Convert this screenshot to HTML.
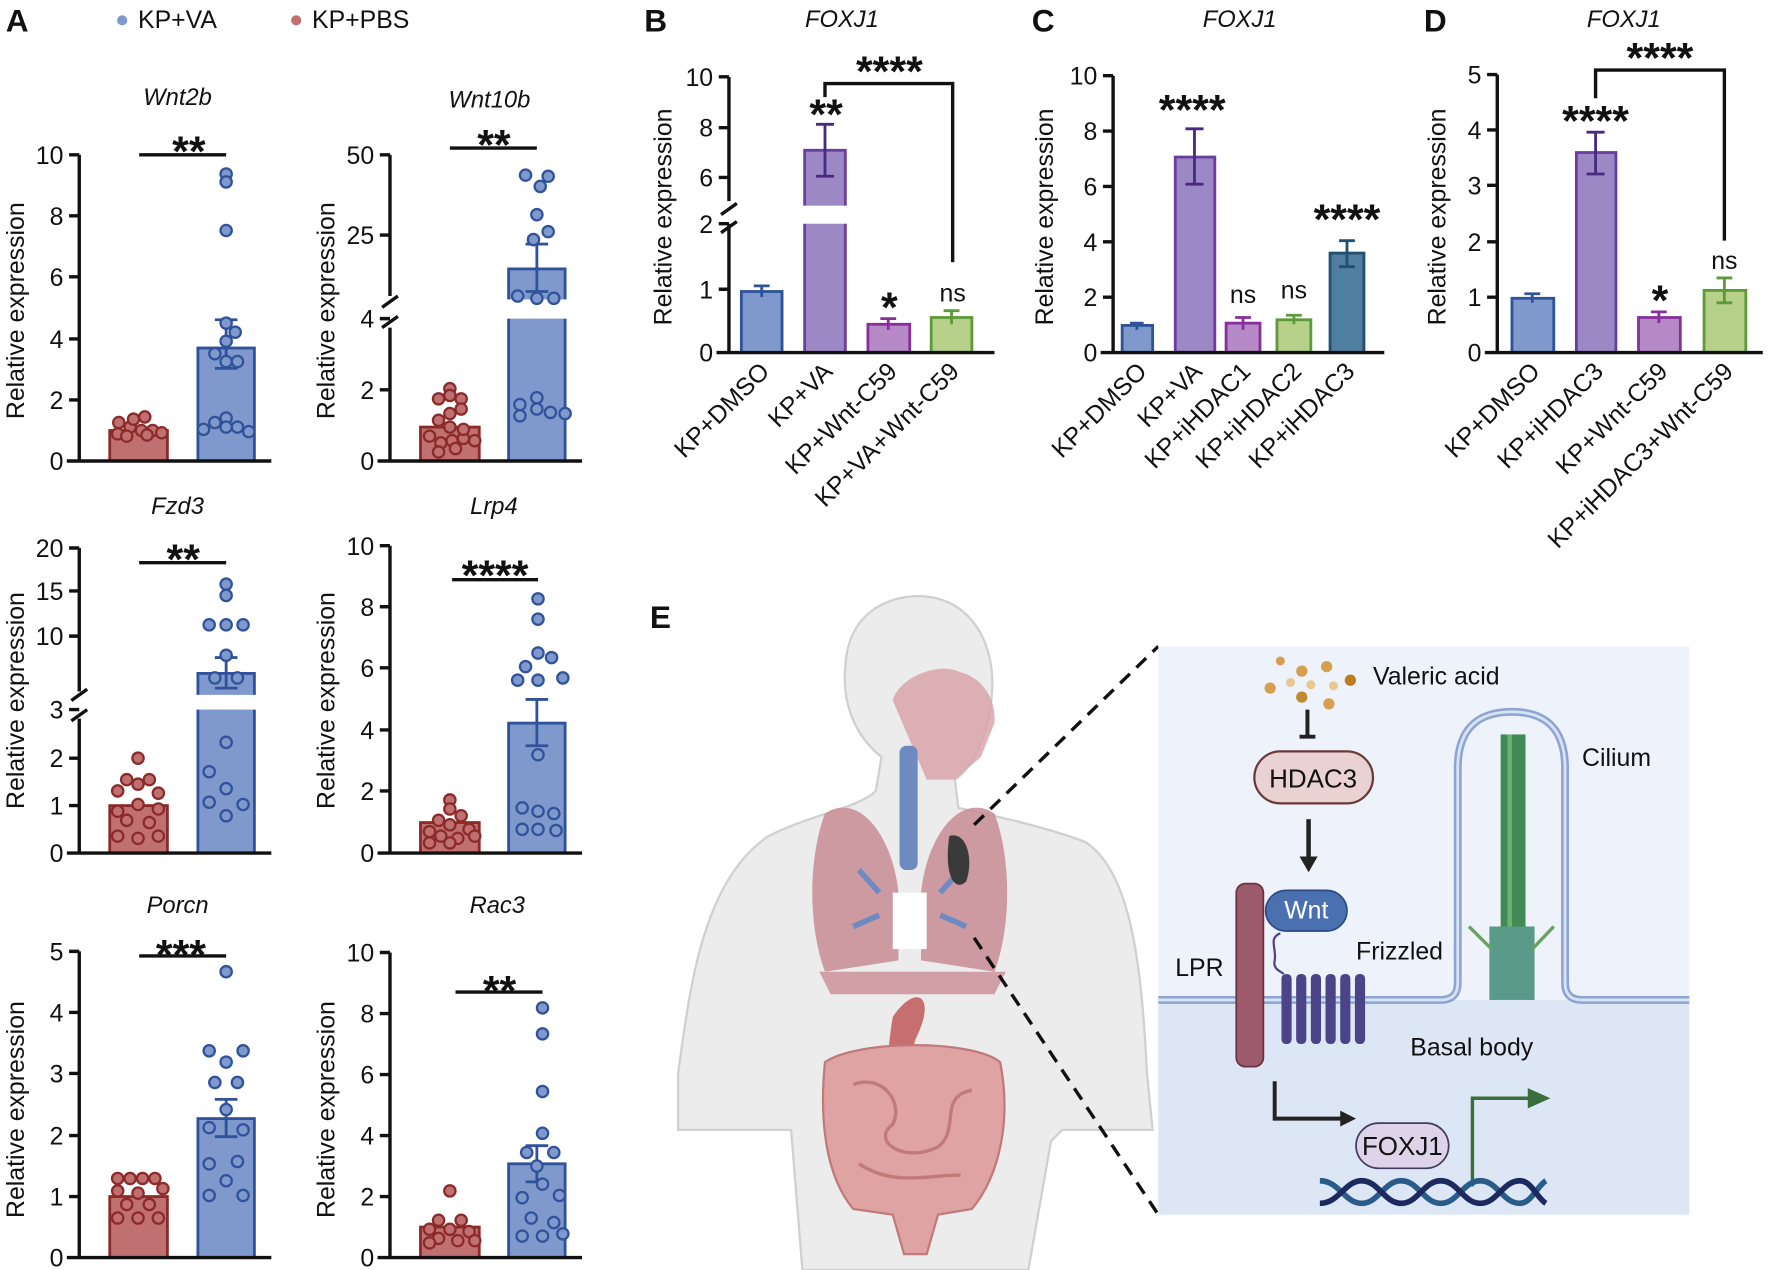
<!DOCTYPE html>
<html><head><meta charset="utf-8"><style>
html,body{margin:0;padding:0;background:#fff}
svg{display:block}
text{font-family:"Liberation Sans",Arial,sans-serif;fill:#111}
.t{font-size:20px}
.tick{font-size:22px}
.yl{font-size:22px}
.it{font-style:italic;font-size:21px}
.st{font-size:38px;font-weight:bold}
.lab{font-size:28px;font-weight:bold}
.ax{stroke:#111;stroke-width:3;fill:none}
.rb{fill:#c07070;stroke:#8c2a2a;stroke-width:2.5}
.bb{fill:#7f99cc;stroke:#2f529a;stroke-width:2.5}
.rd{fill:#c07070;stroke:#8c2a2a;stroke-width:2}
.bd{fill:#7f99cc;stroke:#2f529a;stroke-width:2}
.eb{stroke-width:2.5;fill:none}
</style></head><body>
<svg width="1772" height="1270" viewBox="0 0 1568 1124" xmlns="http://www.w3.org/2000/svg">
<text x="5" y="28" class="lab">A</text>
<circle cx="108" cy="18" r="4.5" fill="#7f99cc"/><text x="122" y="25" class="t" style="font-size:22px">KP+VA</text>
<circle cx="262" cy="18" r="4.5" fill="#c07070"/><text x="276" y="25" class="t" style="font-size:22px">KP+PBS</text>

<!-- Wnt2b -->
<text x="157" y="93" class="it" text-anchor="middle">Wnt2b</text>
<text x="167" y="147" class="st" text-anchor="middle">**</text>
<line x1="123" y1="137" x2="200" y2="137" class="ax"/>
<rect x="97" y="381" width="51" height="27" class="rb"/>
<rect x="175" y="308" width="50" height="100" class="bb"/>
<path d="M200 283V326M190 283H210M190 326H210" stroke="#2f529a" class="eb"/>
<g class="rd"><circle cx="105" cy="374" r="5"/><circle cx="115" cy="378" r="5"/><circle cx="125" cy="381" r="5"/><circle cx="135" cy="381" r="5"/><circle cx="143" cy="383" r="5"/><circle cx="118" cy="371" r="5"/><circle cx="128" cy="369" r="5"/><circle cx="104" cy="384" r="5"/><circle cx="112" cy="386" r="5"/><circle cx="130" cy="385" r="5"/></g>
<g class="bd"><circle cx="200" cy="154" r="5"/><circle cx="200" cy="161" r="5"/><circle cx="200" cy="204" r="5"/><circle cx="200" cy="286" r="5"/><circle cx="208" cy="294" r="5"/><circle cx="200" cy="302" r="5"/><circle cx="190" cy="313" r="5"/><circle cx="200" cy="320" r="5"/><circle cx="210" cy="320" r="5"/><circle cx="200" cy="370" r="5"/><circle cx="190" cy="374" r="5"/><circle cx="210" cy="378" r="5"/><circle cx="180" cy="380" r="5"/><circle cx="220" cy="382" r="5"/><circle cx="200" cy="378" r="5"/></g>
<path d="M70 137V408M61 137H70M61 191H70M61 245H70M61 300H70M61 354H70M61 408H70M59 408H240" class="ax"/>
<g class="tick" text-anchor="end"><text x="56" y="145">10</text><text x="56" y="199">8</text><text x="56" y="253">6</text><text x="56" y="308">4</text><text x="56" y="362">2</text><text x="56" y="416">0</text></g>
<text transform="translate(21,275) rotate(-90)" class="yl" text-anchor="middle">Relative expression</text>

<!-- Wnt10b -->
<text x="433" y="95" class="it" text-anchor="middle">Wnt10b</text>
<text x="437" y="141" class="st" text-anchor="middle">**</text>
<line x1="398" y1="131" x2="475" y2="131" class="ax"/>
<rect x="372" y="378" width="52" height="30" class="rb"/>
<rect x="450" y="238" width="50" height="170" class="bb"/>
<rect x="440" y="265" width="70" height="17" fill="#fff"/>
<path d="M475 216V258M465 216H485M465 258H485" stroke="#2f529a" class="eb"/>
<g class="rd"><circle cx="398" cy="344" r="5"/><circle cx="388" cy="353" r="5"/><circle cx="398" cy="350" r="5"/><circle cx="408" cy="353" r="5"/><circle cx="398" cy="366" r="5"/><circle cx="408" cy="362" r="5"/><circle cx="388" cy="372" r="5"/><circle cx="398" cy="378" r="5"/><circle cx="380" cy="386" r="5"/><circle cx="390" cy="392" r="5"/><circle cx="400" cy="390" r="5"/><circle cx="410" cy="388" r="5"/><circle cx="420" cy="390" r="5"/><circle cx="403" cy="397" r="5"/><circle cx="388" cy="400" r="5"/><circle cx="410" cy="380" r="5"/></g>
<g class="bd"><circle cx="465" cy="155" r="5"/><circle cx="485" cy="156" r="5"/><circle cx="478" cy="165" r="5"/><circle cx="475" cy="190" r="5"/><circle cx="485" cy="205" r="5"/><circle cx="472" cy="212" r="5"/><circle cx="458" cy="262" r="5"/><circle cx="475" cy="264" r="5"/><circle cx="490" cy="264" r="5"/><circle cx="475" cy="352" r="5"/><circle cx="460" cy="358" r="5"/><circle cx="475" cy="362" r="5"/><circle cx="487" cy="365" r="5"/><circle cx="460" cy="368" r="5"/><circle cx="500" cy="366" r="5"/></g>
<path d="M345 137V262M345 290V408M336 137H345M336 208H345M336 282H345M336 345H345M336 408H345M334 408H515" class="ax"/>
<path d="M338 272L352 262M338 290L352 280" class="ax"/>
<g class="tick" text-anchor="end"><text x="331" y="145">50</text><text x="331" y="216">25</text><text x="331" y="290">4</text><text x="331" y="353">2</text><text x="331" y="416">0</text></g>
<text transform="translate(296,275) rotate(-90)" class="yl" text-anchor="middle">Relative expression</text>

<!-- Fzd3 -->
<text x="157" y="455" class="it" text-anchor="middle">Fzd3</text>
<text x="162" y="508" class="st" text-anchor="middle">**</text>
<line x1="123" y1="498" x2="200" y2="498" class="ax"/>
<rect x="97" y="713" width="51" height="42" class="rb"/>
<rect x="175" y="596" width="50" height="159" class="bb"/>
<rect x="165" y="615" width="70" height="13" fill="#fff"/>
<path d="M200 582V609M190 582H210M190 609H210" stroke="#2f529a" class="eb"/>
<g class="rd"><circle cx="122" cy="671" r="5"/><circle cx="112" cy="690" r="5"/><circle cx="122" cy="694" r="5"/><circle cx="132" cy="690" r="5"/><circle cx="104" cy="700" r="5"/><circle cx="140" cy="702" r="5"/><circle cx="122" cy="712" r="5"/><circle cx="104" cy="718" r="5"/><circle cx="140" cy="716" r="5"/><circle cx="112" cy="726" r="5"/><circle cx="132" cy="728" r="5"/><circle cx="104" cy="740" r="5"/><circle cx="122" cy="742" r="5"/><circle cx="140" cy="740" r="5"/></g>
<g class="bd"><circle cx="200" cy="517" r="5"/><circle cx="200" cy="527" r="5"/><circle cx="185" cy="553" r="5"/><circle cx="200" cy="553" r="5"/><circle cx="215" cy="553" r="5"/><circle cx="200" cy="580" r="5"/><circle cx="190" cy="600" r="5"/><circle cx="210" cy="600" r="5"/><circle cx="200" cy="657" r="5"/><circle cx="185" cy="683" r="5"/><circle cx="200" cy="698" r="5"/><circle cx="185" cy="710" r="5"/><circle cx="215" cy="712" r="5"/><circle cx="200" cy="722" r="5"/></g>
<path d="M70 485V612M70 636V755M61 485H70M61 523H70M61 563H70M61 628H70M61 671H70M61 713H70M61 755H70M59 755H240" class="ax"/>
<path d="M63 620L77 610M63 638L77 628" class="ax"/>
<g class="tick" text-anchor="end"><text x="56" y="493">20</text><text x="56" y="531">15</text><text x="56" y="571">10</text><text x="56" y="636">3</text><text x="56" y="679">2</text><text x="56" y="721">1</text><text x="56" y="763">0</text></g>
<text transform="translate(21,620) rotate(-90)" class="yl" text-anchor="middle">Relative expression</text>

<!-- Lrp4 -->
<text x="437" y="455" class="it" text-anchor="middle">Lrp4</text>
<text x="438" y="522" class="st" text-anchor="middle">****</text>
<line x1="400" y1="513" x2="476" y2="513" class="ax"/>
<rect x="372" y="728" width="52" height="27" class="rb"/>
<rect x="450" y="640" width="50" height="115" class="bb"/>
<path d="M475 619V660M465 619H485M465 660H485" stroke="#2f529a" class="eb"/>
<g class="rd"><circle cx="398" cy="708" r="5"/><circle cx="398" cy="716" r="5"/><circle cx="408" cy="722" r="5"/><circle cx="388" cy="726" r="5"/><circle cx="398" cy="730" r="5"/><circle cx="380" cy="736" r="5"/><circle cx="415" cy="734" r="5"/><circle cx="390" cy="740" r="5"/><circle cx="405" cy="742" r="5"/><circle cx="420" cy="740" r="5"/><circle cx="380" cy="746" r="5"/><circle cx="398" cy="746" r="5"/></g>
<g class="bd"><circle cx="476" cy="530" r="5"/><circle cx="476" cy="548" r="5"/><circle cx="476" cy="578" r="5"/><circle cx="488" cy="582" r="5"/><circle cx="465" cy="590" r="5"/><circle cx="458" cy="602" r="5"/><circle cx="476" cy="602" r="5"/><circle cx="498" cy="600" r="5"/><circle cx="476" cy="668" r="5"/><circle cx="462" cy="715" r="5"/><circle cx="476" cy="718" r="5"/><circle cx="490" cy="720" r="5"/><circle cx="462" cy="734" r="5"/><circle cx="476" cy="734" r="5"/><circle cx="492" cy="735" r="5"/></g>
<path d="M345 483V755M336 483H345M336 537H345M336 591H345M336 646H345M336 700H345M336 755H345M334 755H515" class="ax"/>
<g class="tick" text-anchor="end"><text x="331" y="491">10</text><text x="331" y="545">8</text><text x="331" y="599">6</text><text x="331" y="654">4</text><text x="331" y="708">2</text><text x="331" y="763">0</text></g>
<text transform="translate(296,620) rotate(-90)" class="yl" text-anchor="middle">Relative expression</text>

<!-- Porcn -->
<text x="157" y="808" class="it" text-anchor="middle">Porcn</text>
<text x="160" y="858" class="st" text-anchor="middle">***</text>
<line x1="123" y1="846" x2="200" y2="846" class="ax"/>
<rect x="97" y="1059" width="51" height="54" class="rb"/>
<rect x="175" y="990" width="50" height="123" class="bb"/>
<path d="M200 973V1006M190 973H210M190 1006H210" stroke="#2f529a" class="eb"/>
<g class="rd"><circle cx="104" cy="1043" r="5"/><circle cx="115" cy="1043" r="5"/><circle cx="126" cy="1043" r="5"/><circle cx="137" cy="1043" r="5"/><circle cx="144" cy="1052" r="5"/><circle cx="104" cy="1054" r="5"/><circle cx="122" cy="1056" r="5"/><circle cx="112" cy="1066" r="5"/><circle cx="132" cy="1066" r="5"/><circle cx="104" cy="1078" r="5"/><circle cx="122" cy="1078" r="5"/><circle cx="140" cy="1078" r="5"/></g>
<g class="bd"><circle cx="200" cy="860" r="5"/><circle cx="185" cy="930" r="5"/><circle cx="200" cy="940" r="5"/><circle cx="215" cy="930" r="5"/><circle cx="190" cy="958" r="5"/><circle cx="210" cy="958" r="5"/><circle cx="200" cy="982" r="5"/><circle cx="185" cy="998" r="5"/><circle cx="215" cy="1000" r="5"/><circle cx="185" cy="1030" r="5"/><circle cx="210" cy="1028" r="5"/><circle cx="200" cy="1045" r="5"/><circle cx="185" cy="1058" r="5"/><circle cx="215" cy="1058" r="5"/></g>
<path d="M70 842V1113M61 842H70M61 896H70M61 950H70M61 1005H70M61 1059H70M61 1113H70M59 1113H240" class="ax"/>
<g class="tick" text-anchor="end"><text x="56" y="850">5</text><text x="56" y="904">4</text><text x="56" y="958">3</text><text x="56" y="1013">2</text><text x="56" y="1067">1</text><text x="56" y="1121">0</text></g>
<text transform="translate(21,982) rotate(-90)" class="yl" text-anchor="middle">Relative expression</text>

<!-- Rac3 -->
<text x="440" y="808" class="it" text-anchor="middle">Rac3</text>
<text x="442" y="890" class="st" text-anchor="middle">**</text>
<line x1="403" y1="878" x2="480" y2="878" class="ax"/>
<rect x="372" y="1086" width="52" height="27" class="rb"/>
<rect x="450" y="1030" width="50" height="83" class="bb"/>
<path d="M475 1014V1046M465 1014H485M465 1046H485" stroke="#2f529a" class="eb"/>
<g class="rd"><circle cx="398" cy="1054" r="5"/><circle cx="388" cy="1080" r="5"/><circle cx="408" cy="1080" r="5"/><circle cx="380" cy="1088" r="5"/><circle cx="398" cy="1088" r="5"/><circle cx="415" cy="1090" r="5"/><circle cx="388" cy="1096" r="5"/><circle cx="405" cy="1098" r="5"/><circle cx="420" cy="1098" r="5"/><circle cx="380" cy="1100" r="5"/></g>
<g class="bd"><circle cx="480" cy="892" r="5"/><circle cx="480" cy="915" r="5"/><circle cx="480" cy="966" r="5"/><circle cx="480" cy="1003" r="5"/><circle cx="466" cy="1020" r="5"/><circle cx="490" cy="1020" r="5"/><circle cx="475" cy="1032" r="5"/><circle cx="480" cy="1048" r="5"/><circle cx="462" cy="1060" r="5"/><circle cx="495" cy="1058" r="5"/><circle cx="470" cy="1078" r="5"/><circle cx="490" cy="1082" r="5"/><circle cx="462" cy="1094" r="5"/><circle cx="480" cy="1094" r="5"/><circle cx="498" cy="1092" r="5"/></g>
<path d="M345 843V1113M336 843H345M336 897H345M336 951H345M336 1005H345M336 1059H345M336 1113H345M334 1113H515" class="ax"/>
<g class="tick" text-anchor="end"><text x="331" y="851">10</text><text x="331" y="905">8</text><text x="331" y="959">6</text><text x="331" y="1013">4</text><text x="331" y="1067">2</text><text x="331" y="1121">0</text></g>
<text transform="translate(296,982) rotate(-90)" class="yl" text-anchor="middle">Relative expression</text>

<!-- Panel B -->
<text x="570" y="28" class="lab">B</text>
<text x="745" y="24" class="it" text-anchor="middle">FOXJ1</text>
<rect x="656" y="258" width="36" height="54" fill="#7f99cc" stroke="#2f529a" stroke-width="2.5"/>
<path d="M674 253V263M667 253H681" stroke="#2f529a" class="eb"/>
<rect x="712" y="133" width="36" height="179" fill="#9b88c4" stroke="#6b3e9e" stroke-width="2.5"/>
<rect x="702" y="182" width="56" height="16" fill="#fff"/>
<path d="M730 110V156M722 110H738M722 156H738" stroke="#4a2a80" class="eb"/>
<rect x="768" y="287" width="37" height="25" fill="#b58ac7" stroke="#8a2e9e" stroke-width="2.5"/>
<path d="M786 282V292M779 282H793" stroke="#8a2e9e" class="eb"/>
<rect x="824" y="281" width="36" height="31" fill="#b7d08a" stroke="#5e9a3a" stroke-width="2.5"/>
<path d="M842 275V287M835 275H849" stroke="#5e9a3a" class="eb"/>
<path d="M730 86V74H843V232" class="ax" stroke-width="2.5"/>
<text x="787" y="76" class="st" text-anchor="middle">****</text>
<text x="731" y="114" class="st" text-anchor="middle">**</text>
<text x="787" y="285" class="st" text-anchor="middle">*</text>
<text x="843" y="267" text-anchor="middle" style="font-size:22px">ns</text>
<path d="M645 68V178M645 198V312M636 68H645M636 113H645M636 157H645M636 198H645M636 256H645M636 312H645M634 312H880" class="ax"/>
<path d="M638 190L652 180M638 206L652 196" class="ax"/>
<g class="tick" text-anchor="end"><text x="631" y="76">10</text><text x="631" y="121">8</text><text x="631" y="165">6</text><text x="631" y="206">2</text><text x="631" y="264">1</text><text x="631" y="320">0</text></g>
<text transform="translate(594,192) rotate(-90)" class="yl" text-anchor="middle">Relative expression</text>
<g class="tick" text-anchor="end">
<text transform="translate(682,330) rotate(-45)">KP+DMSO</text>
<text transform="translate(738,330) rotate(-45)">KP+VA</text>
<text transform="translate(795,330) rotate(-45)">KP+Wnt-C59</text>
<text transform="translate(850,330) rotate(-45)">KP+VA+Wnt-C59</text>
</g>

<!-- Panel C -->
<text x="913" y="28" class="lab">C</text>
<text x="1097" y="24" class="it" text-anchor="middle">FOXJ1</text>
<rect x="993" y="288" width="27" height="24" fill="#7f99cc" stroke="#2f529a" stroke-width="2.5"/>
<path d="M1006 286V292M1000 286H1012" stroke="#2f529a" class="eb"/>
<rect x="1040" y="139" width="35" height="173" fill="#9b88c4" stroke="#6b3e9e" stroke-width="2.5"/>
<path d="M1057 114V163M1049 114H1065M1049 163H1065" stroke="#4a2a80" class="eb"/>
<rect x="1085" y="286" width="30" height="26" fill="#b58ac7" stroke="#8a2e9e" stroke-width="2.5"/>
<path d="M1100 281V292M1093 281H1107" stroke="#8a2e9e" class="eb"/>
<rect x="1130" y="283" width="30" height="29" fill="#b7d08a" stroke="#5e9a3a" stroke-width="2.5"/>
<path d="M1145 279V287M1138 279H1152" stroke="#5e9a3a" class="eb"/>
<rect x="1177" y="224" width="30" height="88" fill="#4f7fa0" stroke="#234f70" stroke-width="2.5"/>
<path d="M1192 213V236M1185 213H1199M1185 236H1199" stroke="#234f70" class="eb"/>
<text x="1055" y="110" class="st" text-anchor="middle">****</text>
<text x="1100" y="268" text-anchor="middle" style="font-size:22px">ns</text>
<text x="1145" y="264" text-anchor="middle" style="font-size:22px">ns</text>
<text x="1192" y="207" class="st" text-anchor="middle">****</text>
<path d="M985 67V312M976 67H985M976 116H985M976 165H985M976 214H985M976 263H985M976 312H985M974 312H1225" class="ax"/>
<g class="tick" text-anchor="end"><text x="971" y="75">10</text><text x="971" y="124">8</text><text x="971" y="173">6</text><text x="971" y="222">4</text><text x="971" y="271">2</text><text x="971" y="320">0</text></g>
<text transform="translate(932,192) rotate(-90)" class="yl" text-anchor="middle">Relative expression</text>
<g class="tick" text-anchor="end">
<text transform="translate(1016,330) rotate(-45)">KP+DMSO</text>
<text transform="translate(1065,330) rotate(-45)">KP+VA</text>
<text transform="translate(1108,330) rotate(-45)">KP+iHDAC1</text>
<text transform="translate(1153,330) rotate(-45)">KP+iHDAC2</text>
<text transform="translate(1200,330) rotate(-45)">KP+iHDAC3</text>
</g>

<!-- Panel D -->
<text x="1260" y="28" class="lab">D</text>
<text x="1437" y="24" class="it" text-anchor="middle">FOXJ1</text>
<rect x="1338" y="264" width="37" height="48" fill="#7f99cc" stroke="#2f529a" stroke-width="2.5"/>
<path d="M1356 260V268M1349 260H1363" stroke="#2f529a" class="eb"/>
<rect x="1395" y="135" width="35" height="177" fill="#9b88c4" stroke="#6b3e9e" stroke-width="2.5"/>
<path d="M1412 117V154M1404 117H1420M1404 154H1420" stroke="#4a2a80" class="eb"/>
<rect x="1450" y="281" width="37" height="31" fill="#b58ac7" stroke="#8a2e9e" stroke-width="2.5"/>
<path d="M1468 276V286M1461 276H1475" stroke="#8a2e9e" class="eb"/>
<rect x="1508" y="257" width="37" height="55" fill="#b7d08a" stroke="#5e9a3a" stroke-width="2.5"/>
<path d="M1526 246V268M1519 246H1533M1519 268H1533" stroke="#5e9a3a" class="eb"/>
<path d="M1412 87V62H1526V213" class="ax" stroke-width="2.5"/>
<text x="1469" y="64" class="st" text-anchor="middle">****</text>
<text x="1412" y="120" class="st" text-anchor="middle">****</text>
<text x="1469" y="279" class="st" text-anchor="middle">*</text>
<text x="1526" y="238" text-anchor="middle" style="font-size:22px">ns</text>
<path d="M1325 66V312M1316 66H1325M1316 115H1325M1316 164H1325M1316 214H1325M1316 263H1325M1316 312H1325M1314 312H1560" class="ax"/>
<g class="tick" text-anchor="end"><text x="1311" y="74">5</text><text x="1311" y="123">4</text><text x="1311" y="172">3</text><text x="1311" y="222">2</text><text x="1311" y="271">1</text><text x="1311" y="320">0</text></g>
<text transform="translate(1279,192) rotate(-90)" class="yl" text-anchor="middle">Relative expression</text>
<g class="tick" text-anchor="end">
<text transform="translate(1364,330) rotate(-45)">KP+DMSO</text>
<text transform="translate(1420,330) rotate(-45)">KP+iHDAC3</text>
<text transform="translate(1477,330) rotate(-45)">KP+Wnt-C59</text>
<text transform="translate(1535,330) rotate(-45)">KP+iHDAC3+Wnt-C59</text>
</g>

<!-- Panel E -->
<text x="575" y="556" class="lab">E</text>
<path d="M600 950 C610 880 620 780 680 740 C720 720 760 715 775 700 L780 670 C755 650 745 620 748 590 C750 540 790 525 820 528 C860 532 880 570 878 610 C876 650 860 680 845 690 L848 715 C870 720 920 730 960 745 C1000 770 1010 850 1015 950 L1020 1000 L940 1000 L930 1010 L910 1124 L710 1124 L700 1000 L600 1000 Z" fill="#ececec" stroke="#d0d0d0" stroke-width="2"/>
<path d="M790 620 C795 600 830 585 850 595 C870 600 882 620 880 640 L868 670 L845 690 L820 690 Z" fill="#d8a0a8" opacity="0.8"/>
<rect x="796" y="660" width="16" height="110" rx="6" fill="#6e8ac0"/>
<path d="M730 720 C760 700 790 740 795 790 L795 850 L730 860 C715 820 715 760 730 720Z" fill="#c98c95" opacity="0.85"/>
<path d="M880 720 C850 700 820 740 815 790 L815 850 L880 860 C895 820 895 760 880 720Z" fill="#c98c95" opacity="0.85"/>
<path d="M778 790 L760 770 M778 810 L755 820 M832 790 L850 770 M832 810 L855 820" stroke="#6e8ac0" stroke-width="5" fill="none"/>
<path d="M840 740 C855 735 862 760 855 780 C845 790 835 775 840 740Z" fill="#3a3a3a"/>
<rect x="790" y="790" width="30" height="50" fill="#fff"/>
<path d="M725 860 L890 860 L880 880 L735 880Z" fill="#d0a0a6"/>
<path d="M790 900 C810 870 830 880 810 920 L800 960 C790 970 780 960 790 900Z" fill="#c76e70"/>
<path d="M730 940 C760 920 860 920 885 940 C895 990 885 1040 860 1070 L830 1075 L820 1110 L800 1110 L790 1075 L755 1070 C730 1040 725 990 730 940Z" fill="#e0a3a3" stroke="#c07a7a" stroke-width="2"/>
<path d="M755 960 C780 950 800 975 790 995 C770 1010 800 1030 830 1015 C850 1000 830 970 860 965 M760 1030 C790 1050 820 1040 850 1040" stroke="#c07a7a" stroke-width="3" fill="none"/>
<line x1="862" y1="730" x2="1025" y2="572" stroke="#111" stroke-width="3" stroke-dasharray="12,8"/>
<line x1="862" y1="830" x2="1025" y2="1075" stroke="#111" stroke-width="3" stroke-dasharray="12,8"/>
<rect x="1025" y="572" width="470" height="503" fill="#eef2fa"/>
<rect x="1025" y="885" width="470" height="190" fill="#dde6f4"/>
<path d="M1025 885 H1275 Q1290 885 1290 870 V680 Q1290 630 1338 630 Q1385 630 1385 680 V870 Q1385 885 1400 885 H1495" fill="none" stroke="#8ba4d4" stroke-width="7"/>
<path d="M1025 885 H1275 Q1290 885 1290 870 V680 Q1290 630 1338 630 Q1385 630 1385 680 V870 Q1385 885 1400 885 H1495" fill="none" stroke="#d8e2f2" stroke-width="2.5"/>
<rect x="1328" y="650" width="22" height="180" fill="#3f8a55"/>
<rect x="1334" y="650" width="4" height="180" fill="#6fb070"/>
<rect x="1318" y="820" width="40" height="65" fill="#5a9a88"/>
<path d="M1300 820 L1320 840 M1375 820 L1356 840" stroke="#6aa060" stroke-width="3"/>
<g fill="#d4a050"><circle cx="1133" cy="585" r="4"/><circle cx="1152" cy="594" r="5"/><circle cx="1174" cy="590" r="5"/><circle cx="1195" cy="602" r="5" fill="#c07a20"/><circle cx="1124" cy="609" r="5"/><circle cx="1142" cy="604" r="4" fill="#e8c890"/><circle cx="1160" cy="606" r="4" fill="#e8c890"/><circle cx="1180" cy="607" r="4" fill="#e8c890"/><circle cx="1152" cy="617" r="5" fill="#c08a30"/><circle cx="1176" cy="623" r="5"/></g>
<text x="1215" y="606" style="font-size:22px">Valeric acid</text>
<path d="M1157 628V652M1150 652H1164" stroke="#222" stroke-width="3.5"/>
<rect x="1110" y="665" width="105" height="46" rx="23" fill="#ead2d2" stroke="#6a3a3a" stroke-width="2"/>
<text x="1162" y="697" text-anchor="middle" style="font-size:23px">HDAC3</text>
<path d="M1158 725V760" stroke="#222" stroke-width="4"/><path d="M1150 758L1158 772L1166 758Z" fill="#222"/>
<rect x="1094" y="782" width="24" height="162" rx="8" fill="#9c5a6c" stroke="#6a3040" stroke-width="1.5"/>
<rect x="1120" y="788" width="72" height="36" rx="18" fill="#4a70b0" stroke="#2a4a88" stroke-width="1.5"/>
<text x="1156" y="813" text-anchor="middle" style="font-size:22px;fill:#fff">Wnt</text>
<text x="1040" y="864" style="font-size:22px">LPR</text>
<text x="1200" y="849" style="font-size:22px">Frizzled</text>
<text x="1248" y="934" style="font-size:22px">Basal body</text>
<text x="1400" y="678" style="font-size:22px">Cilium</text>
<g fill="#4c4488"><rect x="1134" y="862" width="9" height="62" rx="4"/><rect x="1147" y="862" width="9" height="62" rx="4"/><rect x="1160" y="862" width="9" height="62" rx="4"/><rect x="1173" y="862" width="9" height="62" rx="4"/><rect x="1186" y="862" width="9" height="62" rx="4"/><rect x="1199" y="862" width="9" height="62" rx="4"/></g>
<path d="M1133 826 C1122 830 1130 840 1128 850 C1126 858 1134 860 1136 862" stroke="#4c4488" stroke-width="2" fill="none"/>
<path d="M1128 957V990H1188" stroke="#222" stroke-width="3.5" fill="none"/><path d="M1186 983L1200 990L1186 997Z" fill="#222"/>
<rect x="1200" y="994" width="82" height="40" rx="20" fill="#ddd4ea" stroke="#443a60" stroke-width="1.5"/>
<text x="1241" y="1022" text-anchor="middle" style="font-size:23px">FOXJ1</text>
<path d="M1303 1050V972H1355" stroke="#3a6e3a" stroke-width="3" fill="none"/><path d="M1352 963L1372 972L1352 981Z" fill="#3a6e3a"/>
<path d="M1168 1045 C1185 1045 1190 1065 1205 1065 C1220 1065 1225 1045 1240 1045 C1255 1045 1260 1065 1275 1065 C1290 1065 1295 1045 1310 1045 C1325 1045 1330 1065 1345 1065 C1355 1065 1360 1050 1368 1045" stroke="#2a5c8a" stroke-width="5" fill="none"/>
<path d="M1168 1065 C1185 1065 1190 1045 1205 1045 C1220 1045 1225 1065 1240 1065 C1255 1065 1260 1045 1275 1045 C1290 1045 1295 1065 1310 1065 C1325 1065 1330 1045 1345 1045 C1355 1045 1360 1060 1368 1065" stroke="#1c2a60" stroke-width="5" fill="none"/>
</svg>
</body></html>
